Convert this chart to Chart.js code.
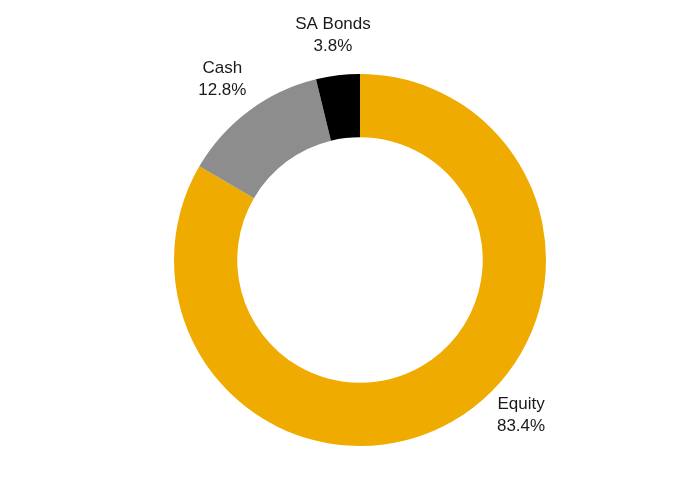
<!DOCTYPE html>
<html lang="en">
<head>
    <meta charset="UTF-8">
    <title>Asset Allocation</title>
    <script src="https://cdn.jsdelivr.net/npm/chart.js"></script>
    <style>
        html, body { margin: 0; padding: 0; background: #fff; }
        #wrap { width: 674px; height: 483px; }
    </style>
</head>
<body>
    <div id="wrap"><canvas id="allocChart" width="674" height="483"></canvas></div>

    <script type="text/javascript">
    // Data
    const categories = ["Equity", "Cash", "SA Bonds"];
    const weights = [83.4, 12.8, 3.8];
    const sliceColours = ["#F0AB00", "#8C8D8C", "#000000"];

    // draws the two-line labels outside each slice
    const outsideLabels = {
        id: 'outsideLabels',
        afterDatasetsDraw(chart, args, opts) {
            const ctx = chart.ctx;
            const arcs = chart.getDatasetMeta(0).data;
            ctx.save();
            ctx.font = '17px "Liberation Sans", Arial, sans-serif';
            ctx.fillStyle = '#1a1a1a';
            ctx.textAlign = 'center';
            ctx.textBaseline = 'middle';
            arcs.forEach((arc, i) => {
                const mid = (arc.startAngle + arc.endAngle) / 2;
                const r = arc.outerRadius * 1.22;
                const nudge = opts.nudge[i] || [0, 0];
                const x = arc.x + Math.cos(mid) * r + nudge[0];
                const y = arc.y + Math.sin(mid) * r + nudge[1];
                ctx.fillText(categories[i], x, y - 11);
                ctx.fillText(weights[i].toFixed(1) + '%', x, y + 11);
            });
            ctx.restore();
        }
    };

    new Chart(document.getElementById('allocChart'), {
        type: 'doughnut',
        data: {
            labels: categories,
            datasets: [{
                data: weights,
                backgroundColor: sliceColours,
                borderWidth: 0
            }]
        },
        options: {
            responsive: false,
            animation: false,
            cutout: '66%',
            layout: { padding: { top: 74, bottom: 37, left: 46, right: 0 } },
            plugins: {
                legend: { display: false },
                tooltip: { enabled: false },
                outsideLabels: { nudge: [[48, -41], [-2, 1], [0, 1]] }
            }
        },
        plugins: [outsideLabels]
    });
    </script>
</body>
</html>
